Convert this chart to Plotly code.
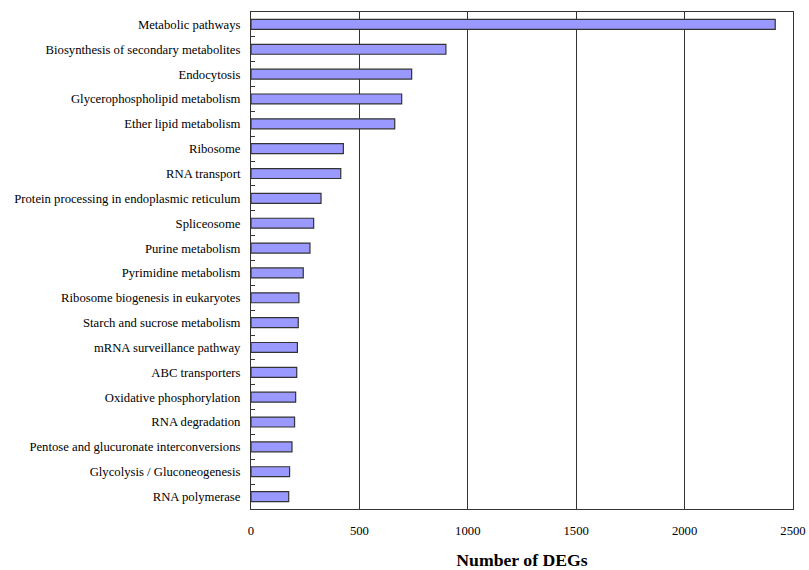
import plotly.graph_objects as go

pathways = [
    "Metabolic pathways",
    "Biosynthesis of secondary metabolites",
    "Endocytosis",
    "Glycerophospholipid metabolism",
    "Ether lipid metabolism",
    "Ribosome",
    "RNA transport",
    "Protein processing in endoplasmic reticulum",
    "Spliceosome",
    "Purine metabolism",
    "Pyrimidine metabolism",
    "Ribosome biogenesis in eukaryotes",
    "Starch and sucrose metabolism",
    "mRNA surveillance pathway",
    "ABC transporters",
    "Oxidative phosphorylation",
    "RNA degradation",
    "Pentose and glucuronate interconversions",
    "Glycolysis / Gluconeogenesis",
    "RNA polymerase",
]
deg_counts = [2418, 899, 741, 695, 663, 426, 414, 323, 289, 272,
              241, 221, 218, 214, 211, 206, 201, 189, 178, 174]
x_ticks = [0, 500, 1000, 1500, 2000, 2500]

fig = go.Figure(
    go.Bar(
        x=deg_counts,
        y=pathways,
        orientation="h",
        width=0.4,
        marker=dict(color="#9999ff", line=dict(color="#333333", width=1.2)),
    )
)

font_family = "Liberation Serif"

fig.update_layout(
    width=809,
    height=570,
    margin=dict(l=251, r=16, t=12, b=61),
    paper_bgcolor="white",
    plot_bgcolor="white",
    font=dict(family=font_family, size=12.7, color="black"),
    showlegend=False,
    xaxis=dict(
        range=[0, 2500],
        tickvals=x_ticks,
        ticktext=[str(v) for v in x_ticks],
        showgrid=True,
        gridcolor="#333333",
        gridwidth=1,
        zeroline=False,
        showline=True,
        linecolor="#333333",
        linewidth=1,
        mirror=True,
        ticks="",
        automargin=False,
        ticklabelstandoff=10,
        tickfont=dict(size=12.7, family=font_family),
        title=dict(
            text="<b>Number of DEGs</b>",
            font=dict(size=17.7, family=font_family),
            standoff=18,
        ),
    ),
    yaxis=dict(
        categoryorder="array",
        categoryarray=pathways,
        autorange="reversed",
        showgrid=False,
        showline=True,
        linecolor="#333333",
        linewidth=1,
        mirror=True,
        ticks="inside",
        tickson="boundaries",
        ticklen=4,
        tickcolor="#333333",
        automargin=False,
        ticklabelstandoff=7,
        tickfont=dict(size=12.7, family=font_family),
    ),
)

fig.write_html("out.html")
